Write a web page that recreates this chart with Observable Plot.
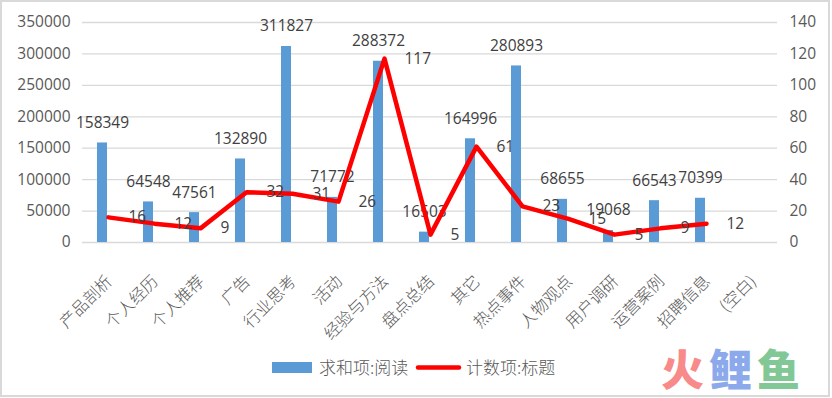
<!DOCTYPE html>
<html><head><meta charset="utf-8">
<script src="https://cdn.jsdelivr.net/npm/d3@7"></script>
<script src="https://cdn.jsdelivr.net/npm/@observablehq/plot@0.6"></script>
<style>
html,body{margin:0;padding:0;background:#fff;}
#wrap{position:relative;width:832px;height:398px;overflow:hidden;}
#frame{position:absolute;left:0;top:0;width:826px;height:393px;border:2px solid #d9d9d9;pointer-events:none;}
#wrap svg{position:absolute;left:0;top:0;}
</style></head>
<body>
<div id="wrap"><div id="frame"></div></div>
<script>
const categories = ["产品剖析","个人经历","个人推荐","广告","行业思考","活动","经验与方法","盘点总结","其它","热点事件","人物观点","用户调研","运营案例","招聘信息","(空白)"];
const readSums = [158349,64548,47561,132890,311827,71772,288372,16503,164996,280893,68655,19068,66543,70399,null];
const titleCounts = [16,12,9,32,31,26,117,5,61,23,15,5,9,12,null];
const leftTicks = [0,50000,100000,150000,200000,250000,300000,350000];
const rightTicks = [0,20,40,60,80,100,120,140];
const seriesNames = ["求和项:阅读","计数项:标题"];
const barColor = "#5B9BD5", lineColor = "#FF0000";

const k = leftTicks[leftTicks.length-1] / rightTicks[rightTicks.length-1];
const rows = categories.map((c,i)=>({c, read: readSums[i], count: titleCounts[i]}));
const barRows = rows.filter(d=>d.read!=null);
const lineRows = rows.filter(d=>d.count!=null);
const numFont = "'Open Sans', 'Liberation Sans', sans-serif";
const cjkFont = "'Noto Sans CJK SC', sans-serif";

const chart = Plot.plot({
  width: 832, height: 398,
  marginLeft: 82, marginRight: 55, marginTop: 22, marginBottom: 156,
  style: {fontFamily: numFont, fontSize: "15px", color: "#595959", background: "transparent"},
  x: {domain: categories, padding: 0, axis: null},
  y: {domain: [0, leftTicks[leftTicks.length-1]], axis: null},
  marks: [
    Plot.gridY(leftTicks, {stroke:"#d9d9d9", strokeOpacity:1, strokeWidth:1.3}),
    Plot.axisY(leftTicks, {anchor:"left", label:null, tickSize:0, tickPadding:12, tickFormat:d=>String(d), fontSize:15.5, fill:"#595959", fontFamily:numFont}),
    Plot.axisY(rightTicks.map(v=>v*k), {anchor:"right", label:null, tickSize:0, tickPadding:12, tickFormat:d=>String(Math.round(d/k)), fontSize:15.5, fill:"#595959", fontFamily:numFont}),
    Plot.axisX({anchor:"bottom", label:null, tickSize:0, tickRotate:-45, tickPadding:26, dx:1, dy:10, fontSize:16.5, fill:"#595959", fontFamily:cjkFont, fontWeight:300}),
    Plot.barY(barRows, {x:"c", y:"read", fill:barColor, insetLeft:18, insetRight:18, dx:-6}),
    Plot.text(barRows, {x:"c", y:"read", text:d=>String(d.read), dy:-20, dx:-6, fill:"#404040", fontSize:15.5, fontFamily:numFont}),
    Plot.line(lineRows, {x:"c", y:d=>d.count*k, stroke:lineColor, strokeWidth:4.5, strokeLinejoin:"round"}),
    Plot.text(lineRows, {x:"c", y:d=>d.count*k, text:d=>String(d.count), dx:20, textAnchor:"start", fill:"#404040", fontSize:15.5, fontFamily:numFont})
  ]
});
document.getElementById("wrap").insertBefore(chart, document.getElementById("frame"));

const svg = d3.select(chart);
const lg = svg.append("g").attr("font-family", cjkFont).attr("font-size", 17).attr("fill", "#595959").attr("font-weight", 300).attr("text-anchor", "start");
lg.append("rect").attr("x", 272).attr("y", 362).attr("width", 40).attr("height", 11).attr("fill", barColor);
lg.append("text").attr("x", 319).attr("y", 368).attr("dy", "0.35em").text(seriesNames[0]);
lg.append("line").attr("x1", 418).attr("x2", 459).attr("y1", 367.5).attr("y2", 367.5).attr("stroke", lineColor).attr("stroke-width", 4.5).attr("stroke-linecap", "round");
lg.append("text").attr("x", 466).attr("y", 368).attr("dy", "0.35em").text(seriesNames[1]);

const wm = svg.append("text").attr("x", 661).attr("y", 386).attr("text-anchor", "start").attr("font-family", cjkFont).attr("font-weight", 900).attr("font-size", 43).attr("letter-spacing", 5);
wm.append("tspan").attr("fill", "#F88A8A").text("火");
wm.append("tspan").attr("fill", "#8CAAEB").text("鲤");
wm.append("tspan").attr("fill", "#82C896").text("鱼");
</script>
</body></html>
